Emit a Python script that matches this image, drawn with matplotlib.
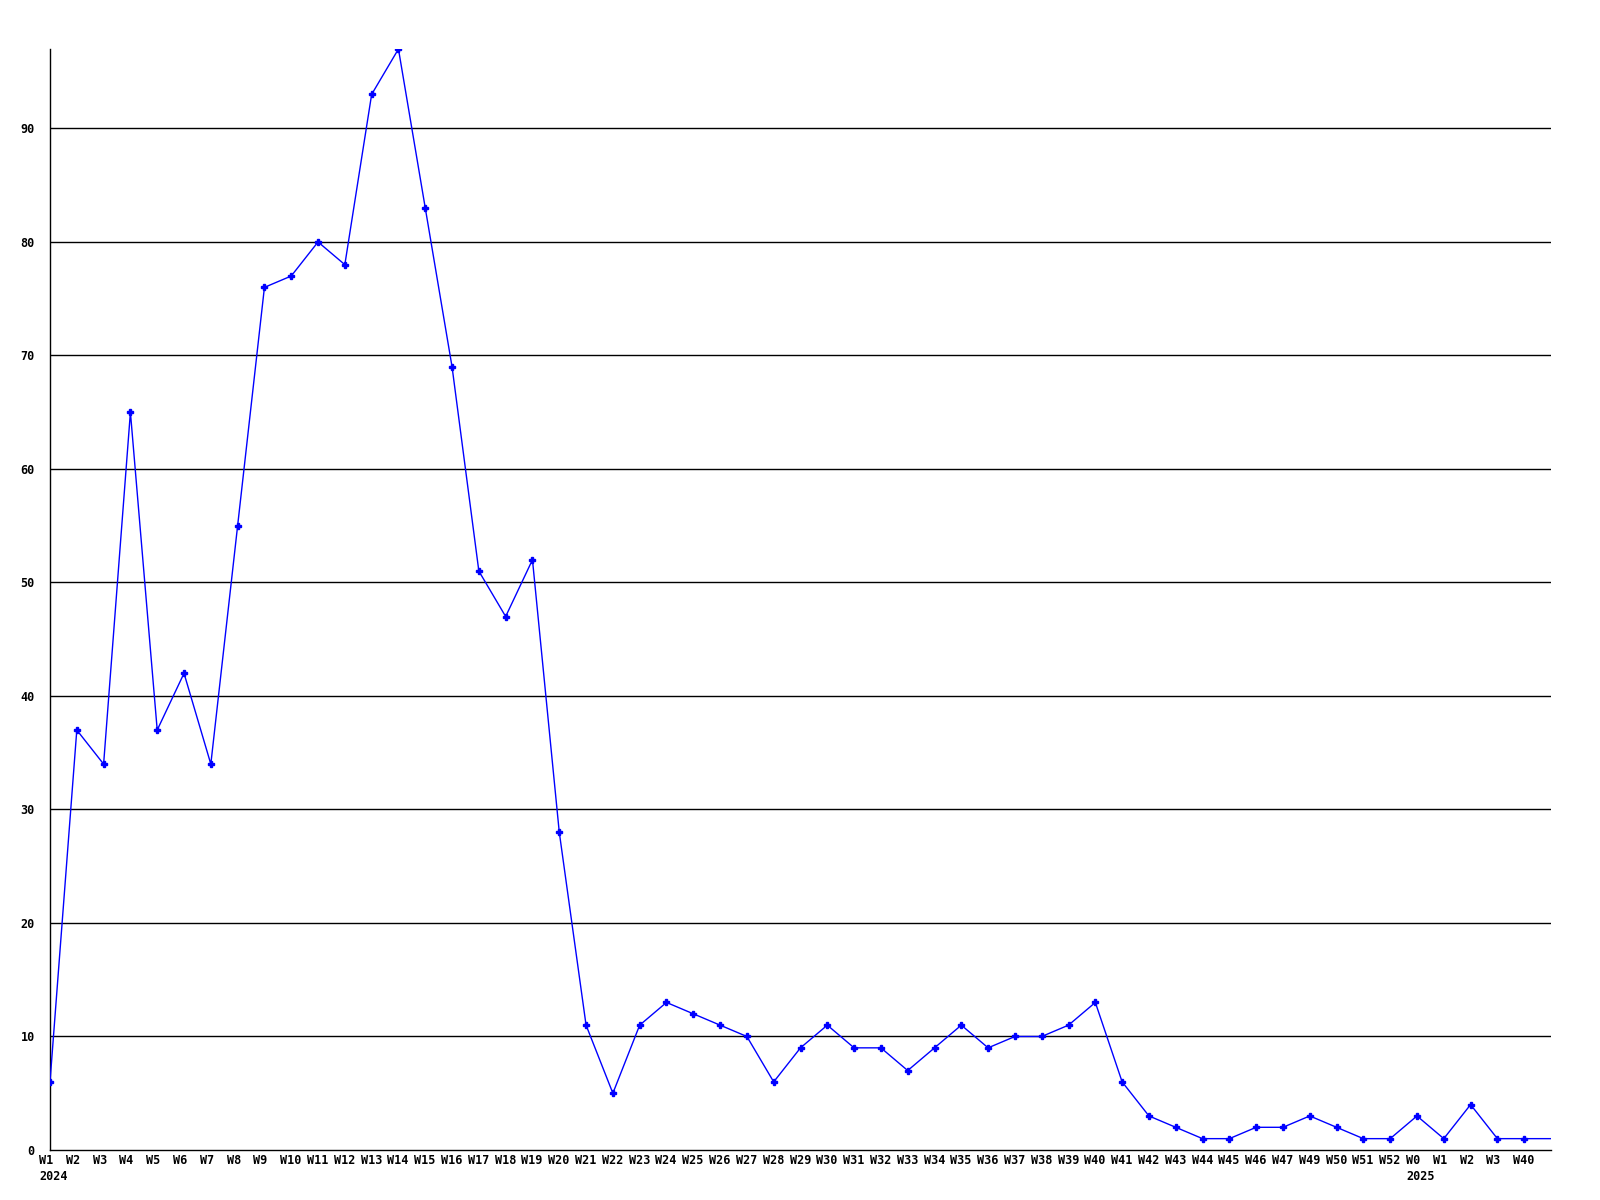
import matplotlib
matplotlib.use("Agg")
import matplotlib.pyplot as plt
import matplotlib.transforms as mtransforms
import numpy as np

# weekly counts (last entry is the unlabelled current week)
weeks = ["W1", "W2", "W3", "W4", "W5", "W6", "W7", "W8", "W9", "W10",
         "W11", "W12", "W13", "W14", "W15", "W16", "W17", "W18", "W19", "W20",
         "W21", "W22", "W23", "W24", "W25", "W26", "W27", "W28", "W29", "W30",
         "W31", "W32", "W33", "W34", "W35", "W36", "W37", "W38", "W39", "W40",
         "W41", "W42", "W43", "W44", "W45", "W46", "W47", "W49", "W50", "W51",
         "W52", "W0", "W1", "W2", "W3", "W40", ""]
counts = [6, 37, 34, 65, 37, 42, 34, 55, 76, 77,
          80, 78, 93, 97, 83, 69, 51, 47, 52, 28,
          11, 5, 11, 13, 12, 11, 10, 6, 9, 11,
          9, 9, 7, 9, 11, 9, 10, 10, 11, 13,
          6, 3, 2, 1, 1, 2, 2, 3, 2, 1,
          1, 3, 1, 4, 1, 1, 1]
years = {0: "2024", 51: "2025"}
yticks = [0, 10, 20, 30, 40, 50, 60, 70, 80, 90]

plt.rcParams['font.family'] = ['DejaVu Sans Mono']
plt.rcParams['font.weight'] = 'bold'

fig = plt.figure(figsize=(16, 12), dpi=100)
ax = fig.add_axes([50 / 1600, 1 - 1150 / 1200, 1501 / 1600, 1101 / 1200])

x = np.arange(len(counts))
for y in yticks[1:]:
    ax.axhline(y, color="black", lw=1, zorder=1)
ax.plot(x, counts, color="#0000ff", lw=1, zorder=3)
ax.plot(x[:-1], counts[:-1], color="#0000ff", lw=0, marker="P",
        markersize=4, zorder=4)

ax.set_xlim(0, len(counts) - 1)
ax.set_ylim(0, max(counts))

# week labels start a little left of each point, years on a second row
ax.set_xticks(x)
ax.set_xticklabels([])
base = ax.get_xaxis_transform()
week_tr = base + mtransforms.ScaledTranslation(-11 / 100, -11 / 100, fig.dpi_scale_trans)
year_tr = base + mtransforms.ScaledTranslation(-11 / 100, -26.5 / 100, fig.dpi_scale_trans)
for i, w in enumerate(weeks):
    ax.text(x[i], 0, w, transform=week_tr, ha="left", va="center",
            fontsize=8.5, fontweight="bold", clip_on=False)
for i, yr in years.items():
    ax.text(x[i], 0, yr, transform=year_tr, ha="left", va="center",
            fontsize=8.5, fontweight="bold", clip_on=False)

ax.set_yticks(yticks)
ax.set_yticklabels([str(v) for v in yticks], fontsize=8.5, fontweight="bold")
ax.tick_params(length=0)
ax.tick_params(axis="y", pad=11)

for s in ["top", "right"]:
    ax.spines[s].set_visible(False)
for s in ["left", "bottom"]:
    ax.spines[s].set_color("black")
    ax.spines[s].set_linewidth(1)

fig.savefig("out.png", dpi=100)
